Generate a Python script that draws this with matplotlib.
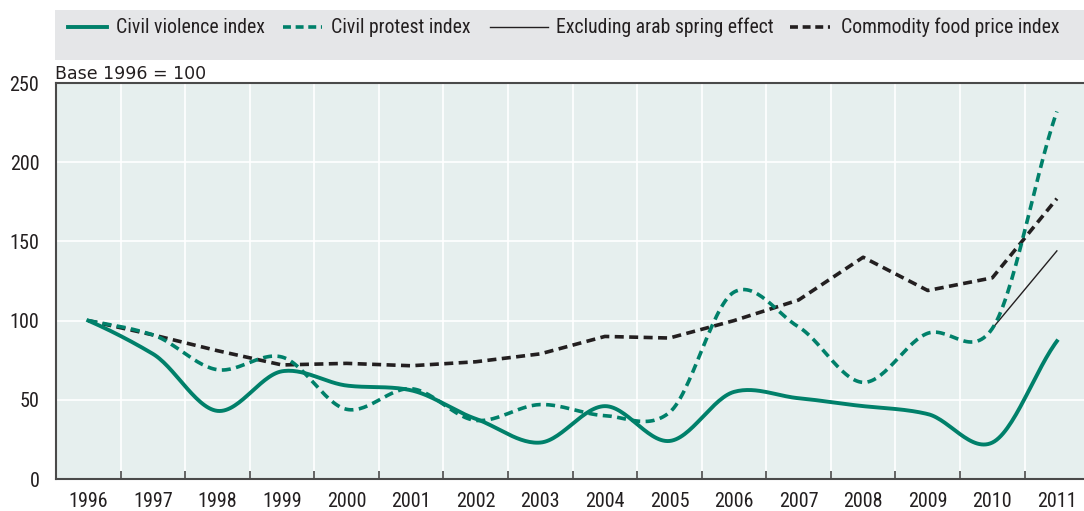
import numpy as np
import matplotlib.pyplot as plt
from matplotlib.lines import Line2D
from matplotlib.patches import Rectangle

plt.rcParams['font.family'] = ['Roboto Condensed', 'Liberation Sans Narrow', 'Roboto', 'DejaVu Sans']

years = list(range(1996, 2012))
civil_violence = [100, 79, 43, 68, 59, 56, 38, 23, 46, 24, 55, 51, 46, 41, 23, 87]
civil_protest = [100, 91, 69, 77, 44, 57, 37, 47, 40, 42, 118, 96, 61, 92, 95, 232]
excl_years = [2010, 2011]
excl_arab = [95, 144]
food_price = [100, 91, 81, 72, 73, 71.5, 74, 79, 90, 89, 100, 113, 140, 119, 127, 177]

green = '#00806a'
dark = '#231f20'
W, H = 1084, 511


def smooth(x, y, c=0.85, n=30):
    # cardinal spline through the points, just for drawing
    x = np.asarray(x, float)
    y = np.asarray(y, float)
    m = np.zeros_like(y)
    m[1:-1] = c * (y[2:] - y[:-2]) / 2
    m[0] = c * (y[1] - y[0])
    m[-1] = c * (y[-1] - y[-2])
    xs, ys = [], []
    t = np.linspace(0, 1, n, endpoint=False)
    h00 = 2 * t ** 3 - 3 * t ** 2 + 1
    h10 = t ** 3 - 2 * t ** 2 + t
    h01 = -2 * t ** 3 + 3 * t ** 2
    h11 = t ** 3 - t ** 2
    for i in range(len(x) - 1):
        xs.extend(x[i] + (x[i + 1] - x[i]) * t)
        ys.extend(h00 * y[i] + h10 * m[i] + h01 * y[i + 1] + h11 * m[i + 1])
    xs.append(x[-1])
    ys.append(y[-1])
    return np.array(xs), np.array(ys)


fig = plt.figure(figsize=(W / 100, H / 100), dpi=100)
ax = fig.add_axes([56 / W, 1 - 479 / H, 1 - 56 / W, 396 / H])
ax.set_facecolor('#e6efee')

ax.plot(years, food_price, color=dark, lw=2.6, dashes=(2.5, 1.5), zorder=3)
ax.plot(excl_years, excl_arab, color=dark, lw=1.0, zorder=3)
xs, ys = smooth(years, civil_protest)
ax.plot(xs, ys, color=green, lw=2.6, dashes=(2.5, 1.5), zorder=4)
xs, ys = smooth(years, civil_violence)
ax.plot(xs, ys, color=green, lw=2.8, zorder=5)

ax.set_xlim(1995.5, 2011.42)
ax.set_ylim(0, 250)

ax.set_xticks(years)
ax.set_xticklabels([str(y) for y in years], fontsize=14.5, color=dark)
ax.set_xticks([y + 0.5 for y in years[:-1]], minor=True)
ax.tick_params(axis='x', which='major', length=0, pad=9)
ax.tick_params(axis='x', which='minor', direction='in', length=6, width=1.2, color='#4a4a4a')
ax.set_yticks([0, 50, 100, 150, 200, 250])
ax.tick_params(axis='y', length=0, labelsize=14.5, labelcolor=dark, pad=12)

ax.grid(False)
for y in [50, 100, 150, 200]:
    ax.axhline(y, color='white', lw=1.2, zorder=1)
for x in years[:-1]:
    ax.axvline(x + 0.5, color='white', lw=1.2, zorder=1)

for s in ['left', 'bottom', 'top']:
    ax.spines[s].set_color('#4a4a4a')
    ax.spines[s].set_linewidth(1.5)
ax.spines['right'].set_visible(False)

fig.text(55 / W, 1 - 79 / H, 'Base 1996 = 100', fontsize=12.5, color=dark,
         family='DejaVu Sans', va='baseline', ha='left')

# legend band drawn by hand so the entries sit where the original has them
fig.patches.append(Rectangle((55 / W, 1 - 60 / H), 1 - 55 / W, 50 / H,
                             transform=fig.transFigure, facecolor='#e5e6e8',
                             edgecolor='none', zorder=0))
labels = ['Civil violence index', 'Civil protest index',
          'Excluding arab spring effect', 'Commodity food price index']
styles = [dict(color=green, lw=2.8),
          dict(color=green, lw=2.6, dashes=(2.2, 1.3)),
          dict(color=dark, lw=1.0),
          dict(color=dark, lw=2.6, dashes=(2.2, 1.3))]
handle_x = [(68, 107), (283, 322), (490, 548), (790, 830)]
text_x = [116, 331, 556, 841]
ly = 1 - 27 / H
for lab, st, (x0, x1), tx in zip(labels, styles, handle_x, text_x):
    fig.add_artist(Line2D([x0 / W, x1 / W], [ly, ly], transform=fig.transFigure, **st))
    fig.text(tx / W, ly, lab, fontsize=14.2, color=dark, ha='left', va='center')

fig.savefig('out.png', dpi=100)
